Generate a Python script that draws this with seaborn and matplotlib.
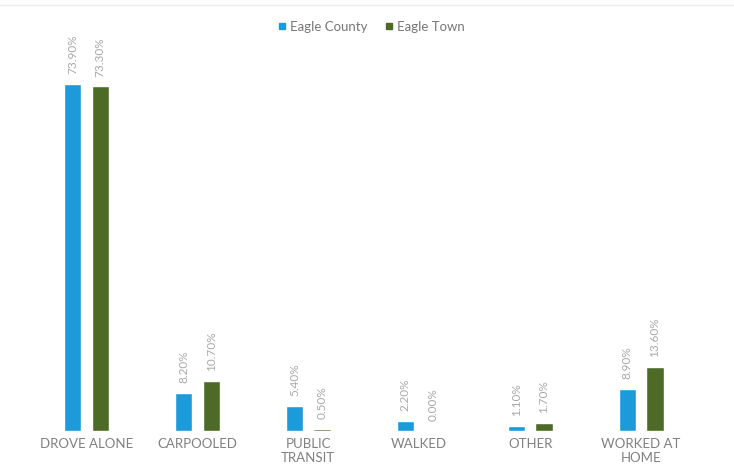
import matplotlib
matplotlib.use("Agg")
import matplotlib.pyplot as plt
import seaborn as sns
import pandas as pd
from matplotlib.lines import Line2D

categories = ["DROVE ALONE", "CARPOOLED", "PUBLIC\nTRANSIT", "WALKED", "OTHER", "WORKED AT\nHOME"]
series_names = ["Eagle County", "Eagle Town"]
eagle_county = [73.9, 8.2, 5.4, 2.2, 1.1, 8.9]
eagle_town = [73.3, 10.7, 0.5, 0.0, 1.7, 13.6]
colors = ["#1d9ad9", "#4d6a27"]

df = pd.DataFrame({
    "category": categories * 2,
    "series": [series_names[0]] * len(categories) + [series_names[1]] * len(categories),
    "value": eagle_county + eagle_town,
})

sns.set_theme(style="white")
plt.rcParams["font.family"] = ["Lato", "DejaVu Sans"]

fig = plt.figure(figsize=(7.34, 4.66), dpi=100)
ax = fig.add_axes([0.042, 0.075, 0.907, 0.807])

sns.barplot(data=df, x="category", y="value", hue="series", order=categories,
            hue_order=series_names, palette=colors, width=0.5, gap=0.38,
            saturation=1, ax=ax, legend=False, errorbar=None)

for cont in ax.containers:
    ax.bar_label(cont, labels=[f"{v:.2f}%" for v in cont.datavalues], rotation=90,
                 padding=7, fontsize=8.5, color="#a8a8a8")

ax.set_xlim(-0.5, 5.5)
ax.set_ylim(0, 80)
ax.set_xlabel("")
ax.set_ylabel("")
ax.set_yticks([])
ax.tick_params(axis="x", length=0, pad=5, labelsize=9.5, labelcolor="#808080")
for s in ax.spines.values():
    s.set_visible(False)

handles = [Line2D([0], [0], marker="s", linestyle="none", markersize=5,
                  markerfacecolor=c, markeredgecolor=c) for c in colors]
fig.legend(handles, series_names, loc="center", bbox_to_anchor=(0.505, 0.942), ncol=2,
           frameon=False, fontsize=9.5, labelcolor="#777777", handletextpad=0.2,
           columnspacing=1.2, handlelength=0.8)

fig.add_artist(Line2D([0.0, 1.0], [0.99, 0.99], color="#eeeeee", lw=1))

fig.savefig("out.png", dpi=100, facecolor="white")
